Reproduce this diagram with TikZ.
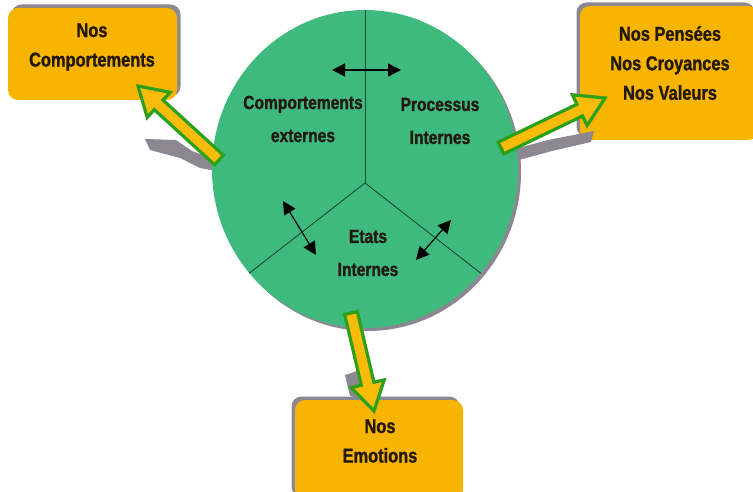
\documentclass[tikz,border=0pt]{standalone}
\usepackage{fontspec}
\setmainfont{Liberation Sans}[FakeStretch=0.82, BoldFeatures={FakeBold=1.2}]
\usetikzlibrary{shapes.geometric,shadows,calc,arrows.meta}
\definecolor{circgreen}{RGB}{62,186,126}
\definecolor{boxorange}{RGB}{247,180,0}
\definecolor{arrfill}{RGB}{250,188,10}
\definecolor{arrline}{RGB}{45,160,25}
\definecolor{shadowgray}{RGB}{140,136,146}
\definecolor{divline}{RGB}{25,75,45}
\definecolor{txtdark}{RGB}{35,25,15}
\newcommand\bigarrow[3][]{%
  \path ($(#3)!28pt!(#2)$) coordinate (#3-h);
  \filldraw[#1] ($(#2)!6.5pt!90:(#3)$) -- ($(#3-h)!6.5pt!90:(#3)$) -- ($(#3-h)!17pt!90:(#3)$) -- (#3)
    -- ($(#3-h)!17pt!-90:(#3)$) -- ($(#3-h)!6.5pt!-90:(#3)$) -- ($(#2)!6.5pt!-90:(#3)$) -- cycle;
}
\begin{document}
\begin{tikzpicture}[x=1pt,y=-1pt,
  boxshape/.style={rectangle, rounded corners=10pt, fill=boxorange, draw=none, inner sep=0pt},
  boxtxt/.style={align=center, text=txtdark, font=\bfseries\fontsize{20}{29.5}\selectfont, inner sep=0pt},
  circtxt/.style={align=center, text=txtdark, font=\bfseries\fontsize{19}{33}\selectfont, inner sep=0pt},
  bigarr/.style={fill=arrfill, draw=arrline, line width=3.2pt, line join=miter},
  shade/.style={fill=shadowgray, draw=none},
  divider/.style={draw=divline, line width=0.9pt},
  dbl/.style={draw=black, line width=1.2pt, {Triangle[length=13pt,width=13pt]}-{Triangle[length=13pt,width=13pt]}}
]
\useasboundingbox (0,0) rectangle (753,492);
\clip (0,0) rectangle (753,492);
\fill[white] (0,0) rectangle (753,492);

% boxes
\node[boxshape, minimum width=169pt, minimum height=92pt,
  drop shadow={shadow xshift=3.5pt, shadow yshift=3.5pt, fill=shadowgray, opacity=1}] (b1) at (92.5,54) {};
\node[boxshape, minimum width=178pt, minimum height=134pt,
  drop shadow={shadow xshift=-3.5pt, shadow yshift=3.5pt, fill=shadowgray, opacity=1}] (b2) at (669,73) {};
\node[boxshape, minimum width=168pt, minimum height=100pt,
  drop shadow={shadow xshift=-3.5pt, shadow yshift=3.5pt, fill=shadowgray, opacity=1}] (b3) at (379,450) {};

\node[boxtxt] (t1) at (92,47) {Nos\\Comportements};
\node[boxtxt] (t2) at (670,63) {Nos Pensées\\Nos Croyances\\Nos Valeurs};
\node[boxtxt] (t3) at (380,441) {Nos\\Emotions};

% arrow shadows
\fill[shade] (145,139) -- (176,140) -- (192,151) -- (216,160) -- (216,171) -- (200,168) -- (180,158) -- (150,150) -- cycle;
\fill[shade] (511,150) -- (548,140) -- (594,131) -- (591,142) -- (552,151) -- (515,161) -- cycle;
\fill[shade] (345,375) -- (357,371) -- (363,399) -- (350,396) -- cycle;

% circle
\node[ellipse, fill=circgreen, draw=none, minimum width=306pt, minimum height=318pt, inner sep=0pt,
  drop shadow={shadow xshift=3pt, shadow yshift=-3pt, fill=shadowgray, opacity=1}] (c) at (365,169) {};
\coordinate (hub) at (365,183);
\draw[divider] (hub) -- (c.north);
\draw[divider] (hub) -- (c.222);
\draw[divider] (hub) -- (c.318);

\node[circtxt] (ce) at (303,119) {Comportements\\externes};
\node[circtxt] (pi) at (440,121) {Processus\\Internes};
\node[circtxt] (ei) at (368,253) {Etats\\Internes};

% internal double arrows
\coordinate (d1a) at (332,70);
\coordinate (d1b) at (401,70);
\coordinate (d2a) at (283,201);
\coordinate (d2b) at (316,255);
\coordinate (d3a) at (451,220);
\coordinate (d3b) at (416,260);
\draw[dbl] (d1a) -- (d1b);
\draw[dbl] (d2a) -- (d2b);
\draw[dbl] (d3a) -- (d3b);

% big arrows
\coordinate (a1s) at (219,160);
\coordinate (a1e) at (138,86);
\coordinate (a2s) at (501,148);
\coordinate (a2e) at (605,98);
\coordinate (a3s) at (351,313);
\coordinate (a3e) at (374,411);
\bigarrow[bigarr]{a1s}{a1e}
\bigarrow[bigarr]{a2s}{a2e}
\bigarrow[bigarr]{a3s}{a3e}
\end{tikzpicture}
\end{document}
